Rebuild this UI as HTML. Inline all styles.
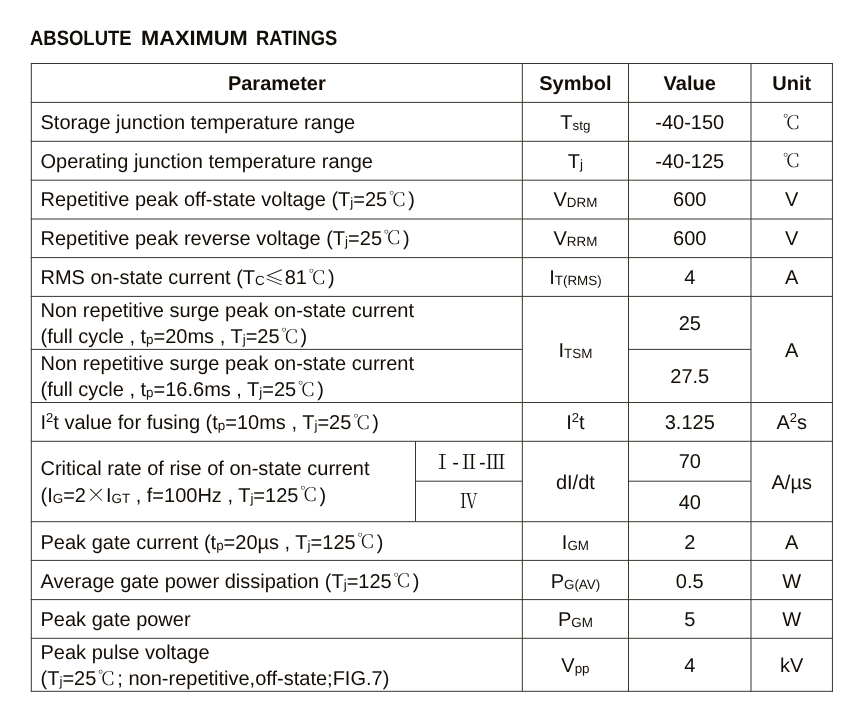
<!DOCTYPE html>
<html lang="en"><head><meta charset="utf-8"><title>Absolute Maximum Ratings</title>
<style>
html,body{margin:0;padding:0;background:#fff}
body{text-rendering:geometricPrecision;position:relative;width:867px;height:716px;overflow:hidden;font-family:"Liberation Sans","Noto Serif CJK SC",sans-serif;color:#130d06}
h1 span{position:absolute;top:0;transform-origin:0 50%}
h1{position:absolute;left:30px;top:27.1px;width:320px;height:24px;margin:0;font:bold 20.8px/24px "Liberation Sans",sans-serif;white-space:nowrap;color:#110d08}
svg{position:absolute;left:0;top:0}
svg line{stroke:#3a362f;stroke-width:1}
.t{position:absolute;font-size:20px;line-height:20px;white-space:nowrap}
.m{width:300px;text-align:center}
.b{font-weight:bold}
.s{font-size:13.4px;position:relative;top:1px}
sup{font-size:13px;vertical-align:baseline;position:relative;top:-7px;line-height:0}
.c{font-family:"Noto Serif CJK SC",serif;font-weight:300;line-height:0}
.dc{font-size:19px;margin:0 2.9px 0 1.3px;position:relative;top:-0.5px}
.dg{font-size:13.5px;font-weight:600;position:relative;top:-4.6px;left:0.75px;margin-right:-1.0px}
.r{font-weight:400}
.x{position:relative;top:0.6px}
.le{position:relative;top:1px;left:-0.5px}
</style></head><body>
<h1><span style="left:0px;transform:scaleX(0.888)">ABSOLUTE</span> <span style="left:110.6px;transform:scaleX(1.05)">MAXIMUM</span> <span style="left:225.6px;transform:scaleX(0.882)">RATINGS</span></h1>
<svg width="867" height="716" viewBox="0 0 867 716">
<line x1="30.8" y1="63.5" x2="832.95" y2="63.5"/>
<line x1="30.8" y1="102.4" x2="832.95" y2="102.4"/>
<line x1="30.8" y1="141.3" x2="832.95" y2="141.3"/>
<line x1="30.8" y1="180.2" x2="832.95" y2="180.2"/>
<line x1="30.8" y1="219.0" x2="832.95" y2="219.0"/>
<line x1="30.8" y1="257.6" x2="832.95" y2="257.6"/>
<line x1="30.8" y1="296.4" x2="832.95" y2="296.4"/>
<line x1="30.8" y1="349.4" x2="522.35" y2="349.4"/>
<line x1="628.5" y1="349.4" x2="751.0" y2="349.4"/>
<line x1="30.8" y1="402.5" x2="832.95" y2="402.5"/>
<line x1="30.8" y1="441.3" x2="832.95" y2="441.3"/>
<line x1="30.8" y1="521.7" x2="832.95" y2="521.7"/>
<line x1="30.8" y1="560.4" x2="832.95" y2="560.4"/>
<line x1="30.8" y1="599.6" x2="832.95" y2="599.6"/>
<line x1="30.8" y1="638.3" x2="832.95" y2="638.3"/>
<line x1="30.8" y1="691.3" x2="832.95" y2="691.3"/>
<line x1="415.5" y1="481.2" x2="522.35" y2="481.2"/>
<line x1="628.5" y1="481.2" x2="751.0" y2="481.2"/>
<line x1="31.3" y1="63.0" x2="31.3" y2="691.8"/>
<line x1="522.35" y1="63.0" x2="522.35" y2="691.8"/>
<line x1="628.5" y1="63.0" x2="628.5" y2="691.8"/>
<line x1="751.0" y1="63.0" x2="751.0" y2="691.8"/>
<line x1="832.45" y1="63.0" x2="832.45" y2="691.8"/>
<line x1="415.5" y1="441.3" x2="415.5" y2="521.7"/>
</svg>
<div class="tbl" role="table" aria-label="Absolute maximum ratings">
<div class="row" role="row">
<div role="cell" class="t m b" style="left:126.82px;top:74.2px">Parameter</div>
<div role="cell" class="t m b" style="left:425.42px;top:74.2px">Symbol</div>
<div role="cell" class="t m b" style="left:539.75px;top:74.2px">Value</div>
<div role="cell" class="t m b" style="left:641.73px;top:74.2px">Unit</div>
</div>
<div class="row" role="row">
<div role="cell" class="t " style="left:40.5px;top:113.0px">Storage junction temperature range</div>
<div role="cell" class="t m " style="left:425.42px;top:113.0px">T<span class="s">stg</span></div>
<div role="cell" class="t m " style="left:539.75px;top:113.0px">-40-150</div>
<div role="cell" class="t m " style="left:641.73px;top:113.0px"><span class="c dc"><span class="dg">°</span>C</span></div>
</div>
<div class="row" role="row">
<div role="cell" class="t " style="left:40.5px;top:151.9px">Operating junction temperature range</div>
<div role="cell" class="t m " style="left:425.42px;top:151.9px">T<span class="s">j</span></div>
<div role="cell" class="t m " style="left:539.75px;top:151.9px">-40-125</div>
<div role="cell" class="t m " style="left:641.73px;top:151.9px"><span class="c dc"><span class="dg">°</span>C</span></div>
</div>
<div class="row" role="row">
<div role="cell" class="t " style="left:40.5px;top:190.1px">Repetitive peak off-state voltage (T<span class="s">j</span>=25<span class="c dc"><span class="dg">°</span>C</span>)</div>
<div role="cell" class="t m " style="left:425.42px;top:190.1px">V<span class="s">DRM</span></div>
<div role="cell" class="t m " style="left:539.75px;top:190.1px">600</div>
<div role="cell" class="t m " style="left:641.73px;top:190.1px">V</div>
</div>
<div class="row" role="row">
<div role="cell" class="t " style="left:40.5px;top:228.9px">Repetitive peak reverse voltage (T<span class="s">j</span>=25<span class="c dc"><span class="dg">°</span>C</span>)</div>
<div role="cell" class="t m " style="left:425.42px;top:228.9px">V<span class="s">RRM</span></div>
<div role="cell" class="t m " style="left:539.75px;top:228.9px">600</div>
<div role="cell" class="t m " style="left:641.73px;top:228.9px">V</div>
</div>
<div class="row" role="row">
<div role="cell" class="t " style="left:40.5px;top:268.3px">RMS on-state current (T<span class="s">C</span><span class="c le">≤</span>81<span class="c dc"><span class="dg">°</span>C</span>)</div>
<div role="cell" class="t m " style="left:425.42px;top:268.3px">I<span class="s">T(RMS)</span></div>
<div role="cell" class="t m " style="left:539.75px;top:268.3px">4</div>
<div role="cell" class="t m " style="left:641.73px;top:268.3px">A</div>
</div>
<div class="row" role="row">
<div role="cell" class="t " style="left:40.5px;top:301.0px">Non repetitive surge peak on-state current</div>
<div role="cell" class="t " style="left:40.5px;top:327.0px">(full cycle , t<span class="s">p</span>=20ms , T<span class="s">j</span>=25<span class="c dc"><span class="dg">°</span>C</span>)</div>
<div role="cell" class="t " style="left:40.5px;top:353.7px">Non repetitive surge peak on-state current</div>
<div role="cell" class="t " style="left:40.5px;top:380.0px">(full cycle , t<span class="s">p</span>=16.6ms , T<span class="s">j</span>=25<span class="c dc"><span class="dg">°</span>C</span>)</div>
<div role="cell" class="t m " style="left:425.42px;top:341.0px">I<span class="s">TSM</span></div>
<div role="cell" class="t m " style="left:539.75px;top:314.0px">25</div>
<div role="cell" class="t m " style="left:539.75px;top:367.0px">27.5</div>
<div role="cell" class="t m " style="left:641.73px;top:341.0px">A</div>
</div>
<div class="row" role="row">
<div role="cell" class="t " style="left:40.5px;top:413.0px">I<sup>2</sup>t value for fusing (t<span class="s">p</span>=10ms , T<span class="s">j</span>=25<span class="c dc"><span class="dg">°</span>C</span>)</div>
<div role="cell" class="t m " style="left:425.42px;top:413.0px">I<sup>2</sup>t</div>
<div role="cell" class="t m " style="left:539.75px;top:413.0px">3.125</div>
<div role="cell" class="t m " style="left:641.73px;top:413.0px">A<sup>2</sup>s</div>
</div>
<div class="row" role="row">
<div role="cell" class="t " style="left:40.5px;top:459.0px">Critical rate of rise of on-state current</div>
<div role="cell" class="t " style="left:40.5px;top:485.5px">(I<span class="s">G</span>=2<span class="c x">×</span>I<span class="s">GT</span> , f=100Hz , T<span class="s">j</span>=125<span class="c dc"><span class="dg">°</span>C</span>)</div>
<div role="cell" class="t m " style="left:318.93px;top:452.7px"><span class="c r">Ⅰ</span>-<span class="c r">Ⅱ</span>-<span class="c r">Ⅲ</span></div>
<div role="cell" class="t m " style="left:318.93px;top:492.2px"><span class="c r" style="display:inline-block;transform:scaleX(0.87)">Ⅳ</span></div>
<div role="cell" class="t m " style="left:425.42px;top:472.7px">dI/dt</div>
<div role="cell" class="t m " style="left:539.75px;top:452.0px">70</div>
<div role="cell" class="t m " style="left:539.75px;top:492.5px">40</div>
<div role="cell" class="t m " style="left:641.73px;top:472.7px">A/µs</div>
</div>
<div class="row" role="row">
<div role="cell" class="t " style="left:40.5px;top:532.5px">Peak gate current (t<span class="s">p</span>=20µs , T<span class="s">j</span>=125<span class="c dc"><span class="dg">°</span>C</span>)</div>
<div role="cell" class="t m " style="left:425.42px;top:532.5px">I<span class="s">GM</span></div>
<div role="cell" class="t m " style="left:539.75px;top:532.5px">2</div>
<div role="cell" class="t m " style="left:641.73px;top:532.5px">A</div>
</div>
<div class="row" role="row">
<div role="cell" class="t " style="left:40.5px;top:571.8px">Average gate power dissipation (T<span class="s">j</span>=125<span class="c dc"><span class="dg">°</span>C</span>)</div>
<div role="cell" class="t m " style="left:425.42px;top:571.8px">P<span class="s">G(AV)</span></div>
<div role="cell" class="t m " style="left:539.75px;top:571.8px">0.5</div>
<div role="cell" class="t m " style="left:641.73px;top:571.8px">W</div>
</div>
<div class="row" role="row">
<div role="cell" class="t " style="left:40.5px;top:610.2px">Peak gate power</div>
<div role="cell" class="t m " style="left:425.42px;top:610.2px">P<span class="s">GM</span></div>
<div role="cell" class="t m " style="left:539.75px;top:610.2px">5</div>
<div role="cell" class="t m " style="left:641.73px;top:610.2px">W</div>
</div>
<div class="row" role="row">
<div role="cell" class="t " style="left:40.5px;top:642.5px">Peak pulse voltage</div>
<div role="cell" class="t " style="left:40.5px;top:669.0px">(T<span class="s">j</span>=25<span class="c dc"><span class="dg">°</span>C</span>; non-repetitive,off-state;FIG.7)</div>
<div role="cell" class="t m " style="left:425.42px;top:656.0px">V<span class="s">pp</span></div>
<div role="cell" class="t m " style="left:539.75px;top:656.0px">4</div>
<div role="cell" class="t m " style="left:641.73px;top:656.0px">kV</div>
</div>
</div>
</body></html>
